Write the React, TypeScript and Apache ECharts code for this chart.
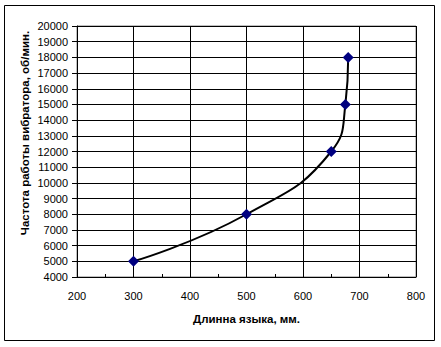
import React, { useEffect, useRef } from "react";
import * as echarts from "echarts";

const lengthMm = [300, 500, 650, 675, 680];
const frequency = [5000, 8000, 12000, 15000, 18000];
const xTitle = "Длинна языка, мм.";
const yTitle = "Частота работы вибратора, об/мин.";

export default function App() {
  const ref = useRef<HTMLDivElement>(null);
  useEffect(() => {
    const chart = echarts.init(ref.current!, null, { renderer: "svg" });
    const font = "'Liberation Sans', Arial, sans-serif";
    chart.setOption({
      animation: false,
      backgroundColor: "#ffffff",
      grid: {
        left: 77,
        top: 26,
        width: 339,
        height: 251,
        show: true,
        borderColor: "#808080",
        borderWidth: 1,
      },
      xAxis: {
        type: "value",
        min: 200,
        max: 800,
        interval: 100,
        name: xTitle,
        nameLocation: "middle",
        nameGap: 36,
        nameTextStyle: { fontFamily: font, fontSize: 11.5, fontWeight: "bold", color: "#000" },
        axisLine: { show: true, lineStyle: { color: "#000", width: 1 } },
        axisTick: { show: true, inside: true, length: 3, lineStyle: { color: "#000" } },
        minorTick: { show: true, splitNumber: 2, length: 3, lineStyle: { color: "#000" } },
        axisLabel: {
          fontFamily: font,
          fontSize: 11,
          color: "#000",
          margin: 13,
          formatter: (v: number) => String(v),
        },
        splitLine: { show: true, lineStyle: { color: "#000", width: 1 } },
      },
      yAxis: {
        type: "value",
        min: 4000,
        max: 20000,
        interval: 1000,
        axisLine: { show: true, lineStyle: { color: "#000", width: 1 } },
        axisTick: { show: true, inside: false, length: 5, lineStyle: { color: "#000" } },
        axisLabel: {
          fontFamily: font,
          fontSize: 11,
          color: "#000",
          margin: 9,
          formatter: (v: number) => String(v),
        },
        splitLine: { show: true, lineStyle: { color: "#000", width: 1 } },
      },
      graphic: [
        {
          type: "rect",
          shape: { x: 4.5, y: 5.5, width: 430, height: 335 },
          style: { fill: "none", stroke: "#000", lineWidth: 1 },
          z: 100,
        },
        {
          type: "text",
          x: 25,
          y: 133,
          rotation: Math.PI / 2,
          style: {
            text: yTitle,
            fontFamily: font,
            fontSize: 11.5,
            fontWeight: "bold",
            fill: "#000",
            align: "center",
            verticalAlign: "middle",
          },
        },
      ],
      series: [
        {
          type: "line",
          data: lengthMm.map((x, i) => [x, frequency[i]]),
          smooth: 0.5,
          symbol: "diamond",
          symbolSize: 11,
          itemStyle: { color: "#000080" },
          lineStyle: { color: "#000", width: 2 },
          z: 5,
        },
      ],
    });
    return () => chart.dispose();
  }, []);
  return (
    <div
      ref={ref}
      style={{ position: "fixed", left: 0, top: 0, width: 441, height: 347 }}
    />
  );
}
